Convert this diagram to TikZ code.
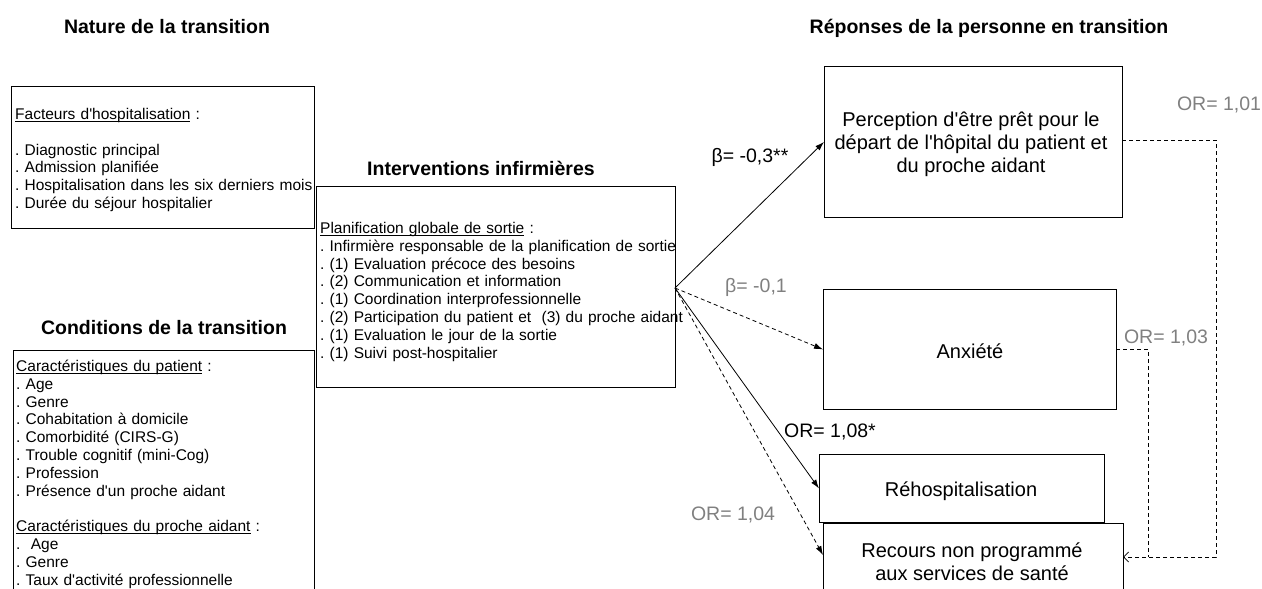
\documentclass[tikz,border=0pt]{standalone}
\usepackage{fontspec}
\setmainfont{Liberation Sans}[Ligatures={TeXOff,NoCommon}]
\usetikzlibrary{arrows.meta}
\definecolor{lblgray}{RGB}{128,128,128}
\newsavebox\ulbox
\newcommand\ulx[1]{\leavevmode\sbox\ulbox{#1}\rlap{\rule[-2.2pt]{\wd\ulbox}{0.8pt}}\usebox\ulbox}
\frenchspacing
\begin{document}
\begin{tikzpicture}[x=1pt,y=-1pt,
  box/.style={draw=black,line width=0.9pt,inner sep=0pt,anchor=north west},
  body/.style={font=\fontsize{15.5}{17.8}\selectfont\frenchspacing,align=left,text width=#1,inner sep=0pt,anchor=base west},
  head/.style={font=\fontsize{19.5}{23}\selectfont\bfseries,inner sep=0pt,anchor=base},
  big/.style={font=\fontsize{20}{23}\selectfont,align=center,inner sep=0pt},
  lbl/.style={font=\fontsize{19.5}{23}\selectfont,inner sep=0pt,anchor=base},
  lblg/.style={lbl,text=lblgray},
  sol/.style={draw=black,line width=0.8pt,-{Latex[length=9pt,width=6pt]}},
  dsh/.style={draw=black,line width=0.8pt,dash pattern=on 4pt off 3pt},
  dsharr/.style={dsh,-{Latex[length=9pt,width=6pt]}}
]
\path[use as bounding box] (0,0) rectangle (1262,589);
\clip (0,0) rectangle (1262,589);

% headers
\node[head] (hNat) at (167,34) {Nature de la transition};
\node[head] (hCond) at (164,334) {Conditions de la transition};
\node[head] (hInt) at (481,175) {Interventions infirmières};
\node[head] (hRep) at (989,34) {Réponses de la personne en transition};

% left boxes
\node[box,minimum width=303pt,minimum height=142pt] (fact) at (11,86) {};
\node[body=400pt] (factT) at (15,119.5) {\ulx{Facteurs d'hospitalisation}\ :\\ \mbox{}\\
. Diagnostic principal\\
. Admission planifiée\\
. Hospitalisation dans les six derniers mois\\
. Durée du séjour hospitalier};

\node[box,minimum width=301pt,minimum height=260pt] (cond) at (13,350) {};
\node[body=400pt] (condT) at (16,371.5) {\ulx{Caractéristiques du patient}\ :\\
. Age\\
. Genre\\
. Cohabitation à domicile\\
. Comorbidité (CIRS-G)\\
. Trouble cognitif (mini-Cog)\\
. Profession\\
. Présence d'un proche aidant\\ \mbox{}\\
\ulx{Caractéristiques du proche aidant}\ :\\
.~ Age\\
. Genre\\
. Taux d'activité professionnelle};

% interventions
\node[box,minimum width=359pt,minimum height=201pt] (inter) at (316,186) {};
\node[body=500pt] (interT) at (320,233.5) {\ulx{Planification globale de sortie}\ :\\
. Infirmière responsable de la planification de sortie\\
. (1) Evaluation précoce des besoins\\
. (2) Communication et information\\
. (1) Coordination interprofessionnelle\\
. (2) Participation du patient et~ (3) du proche aidant\\
. (1) Evaluation le jour de la sortie\\
. (1) Suivi post-hospitalier};

% right boxes
\node[box,minimum width=298pt,minimum height=151pt] (perc) at (824,66) {};
\node[big] (percT) at (971,144) {Perception d'être prêt pour le\\départ de l'hôpital du patient et\\du proche aidant};
\node[box,minimum width=293pt,minimum height=120pt] (anx) at (823,289) {};
\node[big] (anxT) at (970,351) {Anxiété};
\node[box,minimum width=285pt,minimum height=68pt] (rehosp) at (819,454) {};
\node[big] (rehospT) at (961,491) {Réhospitalisation};
\node[box,minimum width=300pt,minimum height=90pt] (rec) at (823,523) {};
\node[big] (recT) at (972,562) {Recours non programmé\\aux services de santé};

% connectors
\coordinate (src) at (675,288);
\coordinate (recIn) at (823,555);
\coordinate (recOut) at (1123,557);
\coordinate (percOut) at (1122,140);
\coordinate (fbA) at (1216,140);
\coordinate (fbB) at (1216,557);
\coordinate (anxOut) at (1116,349);
\coordinate (fbC) at (1148,349);
\coordinate (fbD) at (1148,557);

\draw[sol] (src) -- (perc.west);
\draw[dsharr] (src) -- (anx.west);
\draw[sol] (src) -- (rehosp.west);
\draw[dsharr] (src) -- (recIn);
\draw[dsh,-{Straight Barb[length=5pt,width=10pt]}] (percOut) -- (fbA) -- (fbB) -- (recOut);
\draw[dsh] (anxOut) -- (fbC) -- (fbD);

% labels
\node[lbl] (b1) at (750,162) {β= -0,3**};
\node[lblg] (b2) at (756,292) {β= -0,1};
\node[lbl] (o8) at (830,437) {OR= 1,08*};
\node[lblg] (o4) at (733,520) {OR= 1,04};
\node[lblg] (o1) at (1219,110) {OR= 1,01};
\node[lblg] (o3) at (1166,343) {OR= 1,03};
\end{tikzpicture}
\end{document}
